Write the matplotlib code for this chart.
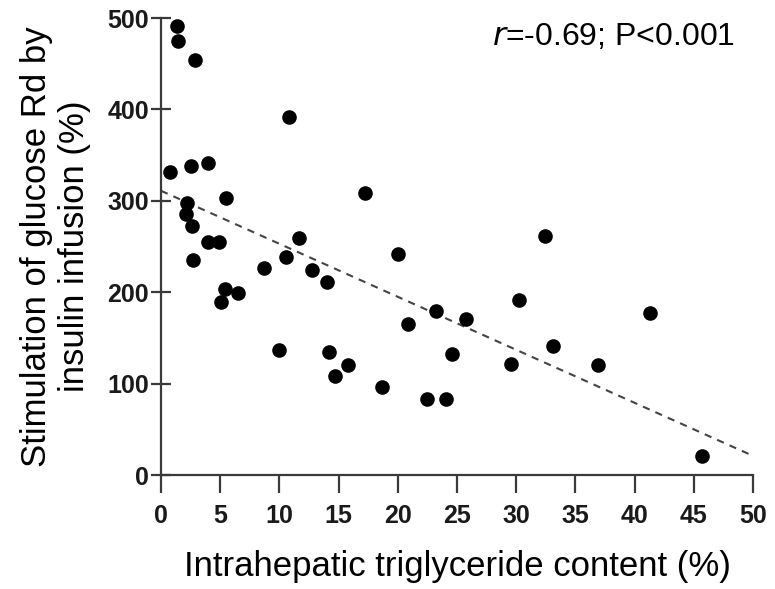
import matplotlib
matplotlib.use("Agg")
import numpy as np
from matplotlib import pyplot as plt

# intrahepatic TG content (%) vs stimulation of glucose Rd (%)
ihtg = [1.33, 1.44, 2.85, 10.8, 0.73, 2.5, 4.0, 5.5, 2.2, 2.1, 2.6, 4.0, 4.9,
        11.65, 2.7, 8.7, 10.6, 12.75, 14.05, 5.38, 5.07, 6.5, 9.95, 14.2, 15.8,
        14.7, 18.66, 17.2, 20.0, 32.4, 20.9, 23.2, 25.8, 30.2, 24.6, 22.5, 24.1,
        29.6, 33.1, 36.9, 41.3, 45.7]
rd_stim = [491, 475, 454, 392, 332, 338, 341, 303, 298, 286, 272, 255, 255,
           259, 235, 227, 238, 224, 211, 203, 189, 199, 137, 135, 120,
           108, 96, 309, 242, 261, 165, 179, 171, 191, 132, 83, 83,
           122, 141, 120, 177, 21]

# regression line
fit_x = [0, 50]
fit_y = [311, 21]

xticks = list(range(0, 55, 5))
yticks = [0, 100, 200, 300, 400, 500]

plt.rcParams['font.family'] = ['Liberation Sans', 'DejaVu Sans']

fig = plt.figure(figsize=(7.75, 5.89), dpi=100)
ax = fig.add_axes([0.2077, 0.1935, 0.7639, 0.7759])

axcol = "#3a3a3a"
ax.plot(fit_x, fit_y, linestyle=(0, (3.5, 3)), color="#444444", lw=1.5, zorder=2)
ax.scatter(ihtg, rd_stim, s=90, color="black", zorder=3, clip_on=False)

ax.set_xlim(0, 50)
ax.set_ylim(0, 500)
ax.set_xticks(xticks)
ax.set_yticks(yticks)
for s in ["top", "right"]:
    ax.spines[s].set_visible(False)
for s in ["left", "bottom"]:
    ax.spines[s].set_color(axcol)
    ax.spines[s].set_linewidth(1.6)
ax.tick_params(axis="x", direction="out", length=13, width=1.6, color=axcol,
               labelsize=18, pad=8)
ax.tick_params(axis="y", direction="inout", length=15, width=1.6, color=axcol,
               labelsize=18, pad=1)
for lab in ax.get_xticklabels() + ax.get_yticklabels():
    lab.set_fontweight("bold")
    lab.set_color("#1a1a1a")

ax.set_xlabel("Intrahepatic triglyceride content (%)", fontsize=25, labelpad=16)
ax.set_ylabel("Stimulation of glucose Rd by\ninsulin infusion (%)", fontsize=25,
              labelpad=12, linespacing=1.2)

ax.text(0.97, 0.958, r"$\it{r}$=-0.69; P<0.001", transform=ax.transAxes,
        ha="right", va="center", fontsize=23)

plt.savefig("out.png", dpi=100)
